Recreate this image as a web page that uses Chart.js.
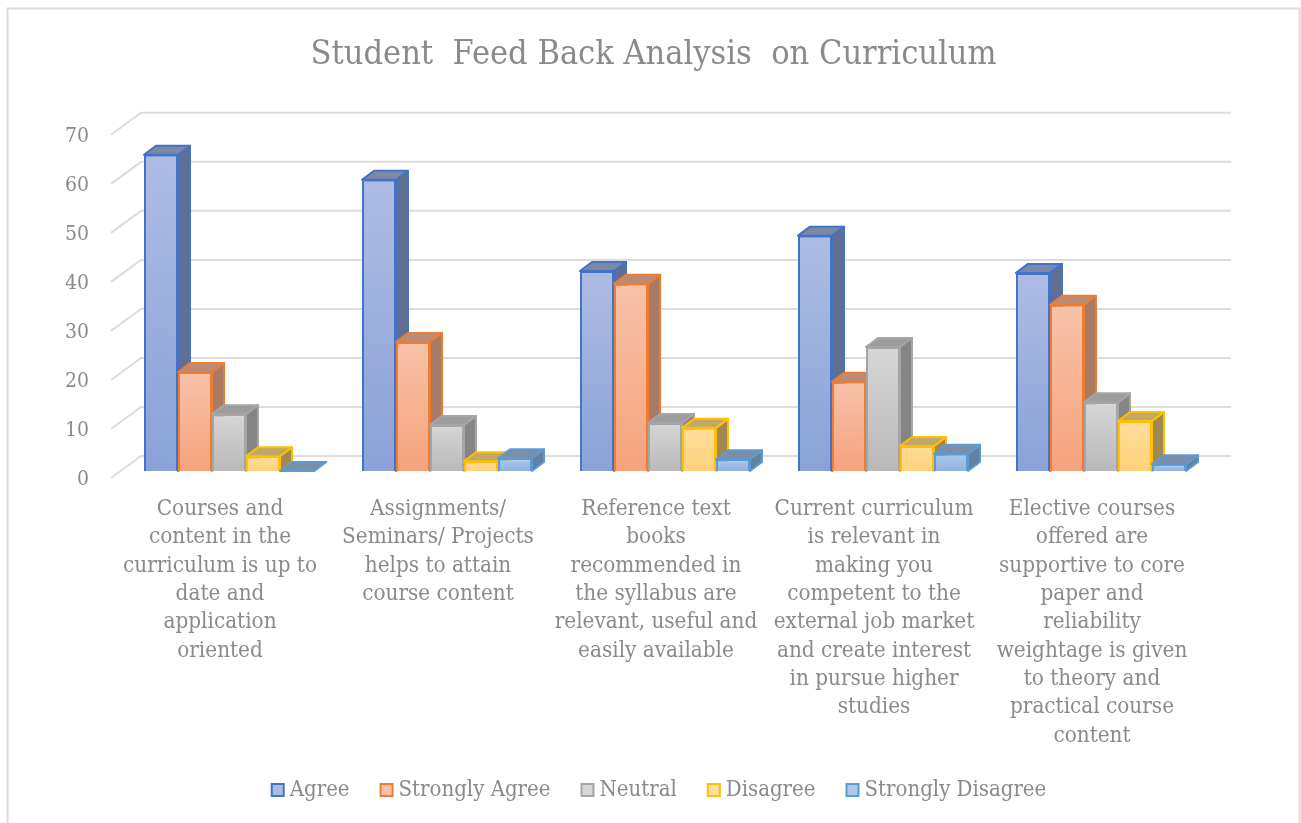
<!DOCTYPE html>
<html>
<head>
<meta charset="utf-8">
<style>
  html, body { margin: 0; padding: 0; background: #fff; }
  #wrap { position: absolute; left: 0; top: 0; width: 1301px; height: 823px; }
</style>
<script src="https://cdn.jsdelivr.net/npm/chart.js@4"></script>
</head>
<body>
<div id="wrap"><canvas id="bar"></canvas></div>
<script>
const categories = [
  ['Courses and', 'content in the', 'curriculum is up to', 'date and', 'application', 'oriented'],
  ['Assignments/', 'Seminars/ Projects', 'helps to attain', 'course content'],
  ['Reference text', 'books', 'recommended in', 'the syllabus are', 'relevant, useful and', 'easily available'],
  ['Current curriculum', 'is relevant in', 'making you', 'competent to the', 'external job market', 'and create interest', 'in pursue higher', 'studies'],
  ['Elective courses', 'offered are', 'supportive to core', 'paper and', 'reliability', 'weightage is given', 'to theory and', 'practical course', 'content']
];
const seriesNames = ['Agree', 'Strongly Agree', 'Neutral', 'Disagree', 'Strongly Disagree'];
const agree = [64.5, 59.4, 40.8, 48, 40.4];
const stronglyAgree = [20.2, 26.3, 38.2, 18.2, 33.9];
const neutral = [11.6, 9.4, 9.8, 25.3, 14];
const disagree = [3, 2, 8.8, 5.1, 10.2];
const stronglyDisagree = [0, 2.6, 2.4, 3.5, 1.4];
const seriesValues = [agree, stronglyAgree, neutral, disagree, stronglyDisagree];

const edgeColors = ['#4472c4', '#ed7d31', '#a5a5a5', '#ffc000', '#5b9bd5'];
const topFills   = ['#adbce3', '#f8c2a9', '#d6d6d6', '#ffdd9c', '#adc8e8'];
const lowFills   = ['#8aa2d8', '#f5a27c', '#b9b9b9', '#ffd27c', '#8fb3e0'];
const sideFills  = ['#5f6f94', '#a87a63', '#858585', '#a08850', '#64809f'];
const capFills   = ['#7b88a8', '#bb8b75', '#9d9d9d', '#c2a868', '#7b8ea8'];

const textColor = '#8a8a8a';
const fontName = '"DejaVu Serif Condensed", "DejaVu Serif", serif';

// bars stand a bit behind the front edge of the floor, the grid is on the back wall
const barShift = { x: 9, y: -7 };
const wallShift = { x: 30, y: -22 };
const barDepth = { x: 12, y: -9 };
const legendShift = 5;

function poly(ctx, pts, fill, stroke) {
  ctx.beginPath();
  pts.forEach((p, i) => i ? ctx.lineTo(p[0], p[1]) : ctx.moveTo(p[0], p[1]));
  ctx.closePath();
  ctx.fillStyle = fill;
  ctx.fill();
  ctx.strokeStyle = stroke;
  ctx.lineWidth = 2;
  ctx.lineJoin = 'round';
  ctx.stroke();
}

const scene3d = {
  id: 'scene3d',
  afterLayout(chart) {
    const legend = chart.legend;
    legend.left += legendShift;
    legend.right += legendShift;
    legend.legendHitBoxes.forEach(box => { box.left += legendShift; });
  },
  beforeDatasetsDraw(chart) {
    const { ctx, chartArea, scales } = chart;
    ctx.save();
    ctx.strokeStyle = '#dcdcdc';
    ctx.lineWidth = 2;
    scales.y.ticks.forEach(t => {
      const y = scales.y.getPixelForValue(t.value);
      ctx.beginPath();
      ctx.moveTo(chartArea.left, y);
      ctx.lineTo(chartArea.left + wallShift.x, y + wallShift.y);
      ctx.lineTo(chartArea.right + wallShift.x, y + wallShift.y);
      ctx.stroke();
    });
    ctx.translate(barShift.x, barShift.y);
    seriesNames.forEach((name, i) => {
      chart.getDatasetMeta(i).data.forEach(bar => {
        const l = bar.x - bar.width / 2, r = bar.x + bar.width / 2;
        const t = bar.y, b = bar.base;
        const dx = barDepth.x, dy = barDepth.y;
        poly(ctx, [[r, t], [r + dx, t + dy], [r + dx, b + dy], [r, b]], sideFills[i], edgeColors[i]);
        poly(ctx, [[l, t], [l + dx, t + dy], [r + dx, t + dy], [r, t]], capFills[i], edgeColors[i]);
        if (b - t > 0.5) bar.draw(ctx);
      });
    });
    ctx.restore();
    return false;
  },
  afterDraw(chart) {
    const { ctx } = chart;
    chart.legend.legendHitBoxes.forEach((box, i) => {
      const cy = box.top + box.height / 2;
      ctx.fillStyle = topFills[i];
      ctx.strokeStyle = edgeColors[i];
      ctx.lineWidth = 2;
      ctx.fillRect(box.left + 1, cy - 6, 12, 12);
      ctx.strokeRect(box.left + 1, cy - 6, 12, 12);
    });
    ctx.strokeStyle = '#dcdcdc';
    ctx.lineWidth = 2;
    ctx.strokeRect(7.5, 8.5, 1292, 830);
  }
};

new Chart(document.getElementById('bar'), {
  type: 'bar',
  data: {
    labels: categories,
    datasets: seriesNames.map((name, i) => ({
      label: name,
      data: seriesValues[i],
      borderColor: edgeColors[i],
      borderWidth: 2,
      backgroundColor: c => {
        if (!c.chart.chartArea || !c.parsed) return topFills[i];
        const sy = c.chart.scales.y;
        const g = c.chart.ctx.createLinearGradient(0, sy.getPixelForValue(c.parsed.y), 0, sy.getPixelForValue(0));
        g.addColorStop(0, topFills[i]);
        g.addColorStop(1, lowFills[i]);
        return g;
      }
    }))
  },
  options: {
    responsive: true,
    maintainAspectRatio: false,
    animation: false,
    layout: { padding: { left: 6, right: 0, top: 0, bottom: 12 } },
    datasets: { bar: { categoryPercentage: 0.78, barPercentage: 1 } },
    scales: {
      x: {
        grid: { display: false },
        border: { display: false },
        ticks: {
          color: textColor,
          font: { family: fontName, size: 22.3, lineHeight: 1.27 },
          padding: 9,
          maxRotation: 0,
          autoSkip: false
        },
        afterFit: s => { s.height = 271; }
      },
      y: {
        min: 0,
        max: 70,
        grid: { display: false },
        border: { display: false },
        ticks: {
          stepSize: 10,
          color: textColor,
          font: { family: fontName, size: 21 },
          padding: 14,
          labelOffset: 2
        },
        afterFit: s => { s.width = 105; }
      },
      // empty axis, only keeps the room right of the wall
      side: {
        position: 'right',
        grid: { display: false },
        border: { display: false },
        ticks: { display: false },
        afterFit: s => { s.width = 100; }
      }
    },
    plugins: {
      title: {
        display: true,
        text: 'Student  Feed Back Analysis  on Curriculum',
        color: textColor,
        font: { family: fontName, size: 34, weight: 'normal' },
        padding: { top: 35, bottom: 59 }
      },
      legend: {
        position: 'bottom',
        labels: {
          color: textColor,
          font: { family: fontName, size: 22 },
          boxWidth: 8,
          padding: 30,
          generateLabels: () => seriesNames.map(name => ({ text: name, fontColor: textColor, fillStyle: 'rgba(0,0,0,0)', strokeStyle: 'rgba(0,0,0,0)', lineWidth: 0 }))
        }
      },
      tooltip: { enabled: false }
    }
  },
  plugins: [scene3d]
});
</script>
</body>
</html>
